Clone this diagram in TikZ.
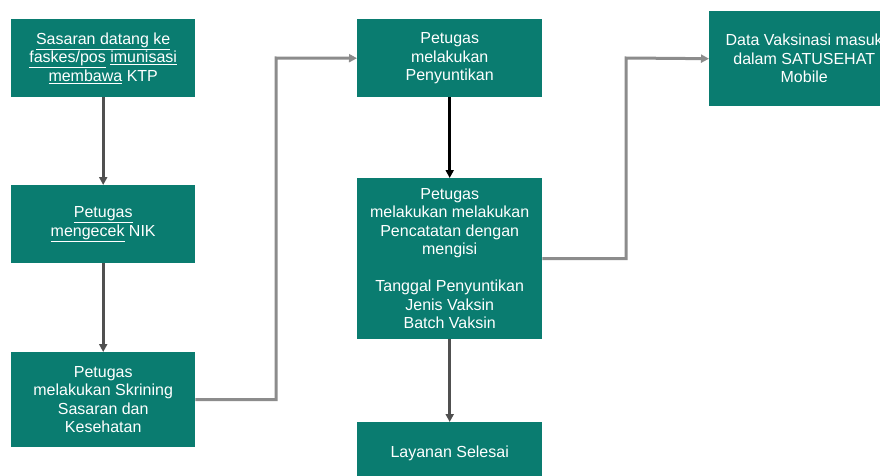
\documentclass[tikz,border=0pt]{standalone}
\usepackage{fontspec}
\setmainfont{Liberation Sans}
\usetikzlibrary{arrows.meta}
\definecolor{teal1}{RGB}{10,124,112}
\definecolor{dgray}{RGB}{80,80,80}
\definecolor{lgray}{RGB}{140,140,140}
\newcommand{\ulw}[1]{\underline{#1}}
\tikzset{
  box/.style={fill=teal1, draw=none, text=white, align=center, anchor=north west,
    inner sep=0pt, font=\fontsize{16}{18.5}\selectfont},
  conn/.style={line width=3pt, -{Triangle[length=8pt,width=8pt]}},
}
\begin{document}
\begin{tikzpicture}[x=1pt,y=-1pt]
\useasboundingbox (0,0) rectangle (880,476);
\clip (0,0) rectangle (880,476);
\fill[white] (0,0) rectangle (880,476);
\node[box, minimum width=184pt, minimum height=78pt] (b1) at (11,19)
  {\ulw{Sasaran datang ke}\\\ulw{faskes/pos} \ulw{imunisasi}\\\ulw{membawa} KTP};
\node[box, minimum width=184pt, minimum height=78pt] (b2) at (11,185)
  {\ulw{Petugas}\\\ulw{mengecek} NIK};
\node[box, minimum width=184pt, minimum height=95pt] (b3) at (11,352)
  {Petugas\\melakukan Skrining\\Sasaran dan\\Kesehatan};
\node[box, minimum width=185pt, minimum height=78pt] (b4) at (357,19)
  {Petugas\\melakukan\\Penyuntikan};
\node[box, minimum width=185pt, minimum height=161pt] (b5) at (357,178)
  {Petugas\\melakukan melakukan\\Pencatatan dengan\\mengisi\\[18.5pt]Tanggal Penyuntikan\\Jenis Vaksin\\Batch Vaksin};
\node[box, minimum width=185pt, minimum height=62pt] (b6) at (357,422)
  {Layanan Selesai};
\node[box, minimum width=190pt, minimum height=95pt] (b7) at (709,11)
  {Data Vaksinasi masuk\\dalam SATUSEHAT\\Mobile};
\coordinate (k1) at (276,58);
\coordinate (k2) at (626,58);
\draw[conn, dgray] (b1.south) -- (b2.north);
\draw[conn, dgray] (b2.south) -- (b3.north);
\draw[conn, lgray] (b3.east) -| (k1) -- (b4.west);
\draw[conn, black] (b4.south) -- (b5.north);
\draw[conn, dgray] (b5.south) -- (b6.north);
\draw[conn, lgray] (b5.east) -| (k2) -- (b7.west);
\end{tikzpicture}
\end{document}
